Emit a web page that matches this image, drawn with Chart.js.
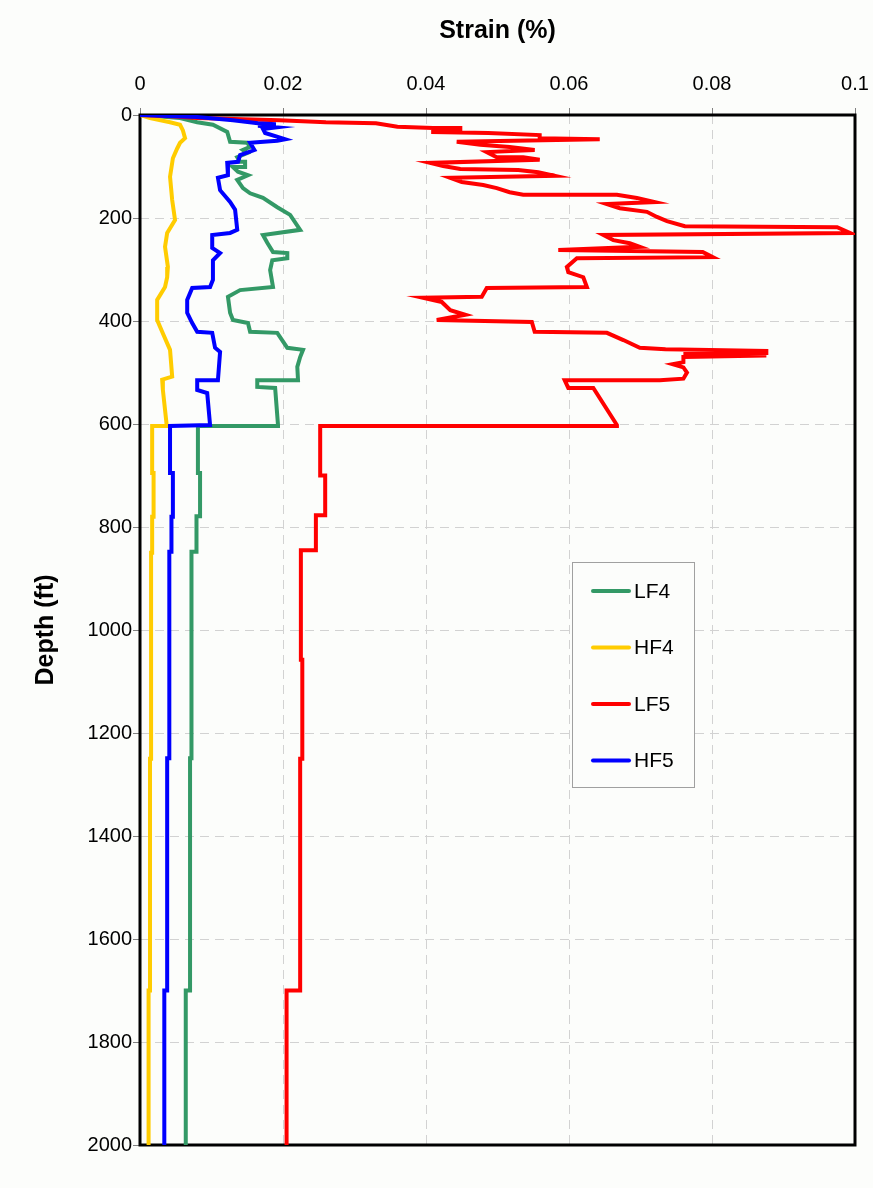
<!DOCTYPE html>
<html>
<head>
<meta charset="utf-8">
<script src="https://cdn.jsdelivr.net/npm/chart.js@4.4.1/dist/chart.umd.min.js"></script>
<style>
  html, body { margin: 0; padding: 0; background: #fcfdfb; }
</style>
</head>
<body>
<canvas id="strain-chart" width="873" height="1188"></canvas>
<script>
"use strict";

// series names, in the order of the legend
const seriesNames = ["LF4", "HF4", "LF5", "HF5"];
const xTickLabels = ["0", "0.02", "0.04", "0.06", "0.08", "0.1"];

// [strain (%), depth (ft)]
const lf4 = [
  [0, 0], [0.0056, 6], [0.0080, 14], [0.0102, 19], [0.0122, 33], [0.0126, 52],
  [0.0150, 54], [0.0154, 62], [0.0144, 68], [0.0150, 74], [0.0136, 82], [0.0140, 91],
  [0.0147, 91], [0.0147, 101], [0.0130, 101], [0.0137, 110], [0.0151, 117], [0.0136, 126],
  [0.0144, 142], [0.0154, 152], [0.0172, 161], [0.0192, 179], [0.0210, 194], [0.0224, 223],
  [0.0172, 233], [0.0178, 248], [0.0186, 266], [0.0206, 268], [0.0206, 278], [0.0185, 282],
  [0.0182, 301], [0.0186, 334], [0.0140, 340], [0.0123, 353], [0.0126, 384], [0.0130, 398],
  [0.0151, 404], [0.0154, 421], [0.0192, 423], [0.0206, 452], [0.0228, 456], [0.0224, 470],
  [0.0220, 489], [0.0221, 515], [0.0164, 515], [0.0164, 528], [0.0189, 530], [0.0193, 602],
  [0.0193, 604], [0.0081, 604], [0.0081, 695], [0.0084, 695], [0.0084, 779], [0.0079, 779],
  [0.0079, 848], [0.0072, 848], [0.0072, 1249], [0.0070, 1249], [0.0070, 1700], [0.0064, 1700],
  [0.0064, 2000]
];
const hf4 = [
  [0, 0], [0.0014, 6], [0.0042, 14], [0.0056, 19], [0.0060, 30], [0.0063, 45],
  [0.0056, 54], [0.0052, 65], [0.0046, 84], [0.0042, 120], [0.0045, 165], [0.0049, 204],
  [0.0038, 229], [0.0035, 256], [0.0039, 295], [0.0038, 315], [0.0035, 334], [0.0024, 359],
  [0.0024, 398], [0.0031, 421], [0.0042, 456], [0.0045, 508], [0.0031, 514], [0.0032, 534],
  [0.0037, 598], [0.0037, 604], [0.0017, 604], [0.0017, 695], [0.0019, 695], [0.0019, 780],
  [0.0017, 780], [0.0017, 850], [0.00155, 850], [0.00155, 1250], [0.0014, 1250], [0.0014, 1700],
  [0.0012, 1700], [0.0012, 2000]
];
const lf5 = [
  [0, 0], [0.0050, 3], [0.0080, 6], [0.0195, 10], [0.0260, 14], [0.0330, 16],
  [0.0360, 23], [0.0410, 25], [0.0448, 25], [0.0448, 30], [0.0410, 30], [0.0410, 33],
  [0.0487, 35], [0.0559, 39], [0.0559, 45], [0.0643, 47], [0.0443, 52], [0.0476, 58],
  [0.0517, 62], [0.0552, 68], [0.0485, 72], [0.0499, 82], [0.0536, 82], [0.0559, 87],
  [0.0406, 93], [0.0424, 99], [0.0448, 105], [0.0529, 107], [0.0557, 111], [0.0580, 118],
  [0.0434, 122], [0.0450, 130], [0.0480, 136], [0.0499, 142], [0.0517, 150], [0.0536, 155],
  [0.0667, 155], [0.0695, 161], [0.0720, 169], [0.0653, 173], [0.0671, 181], [0.0709, 188],
  [0.0723, 198], [0.0737, 206], [0.0762, 216], [0.0975, 218], [0.0993, 229], [0.0648, 233],
  [0.0662, 243], [0.0685, 249], [0.0699, 256], [0.0585, 262], [0.0787, 266], [0.0801, 276],
  [0.0611, 278], [0.0597, 295], [0.0599, 305], [0.0620, 315], [0.0625, 334], [0.0485, 336],
  [0.0478, 353], [0.0396, 355], [0.0422, 363], [0.0434, 379], [0.0455, 388], [0.0415, 398],
  [0.0548, 402], [0.0552, 421], [0.0653, 423], [0.0676, 437], [0.0699, 452], [0.0735, 455],
  [0.0876, 458], [0.0876, 462], [0.0760, 464], [0.0876, 467], [0.0760, 470], [0.0760, 480],
  [0.0745, 484], [0.0760, 490], [0.0765, 500], [0.0760, 512], [0.0727, 515], [0.0594, 515],
  [0.0599, 530], [0.0634, 530], [0.0667, 602], [0.0667, 604], [0.0252, 604], [0.0252, 700],
  [0.0259, 700], [0.0259, 777], [0.0246, 777], [0.0246, 845], [0.0225, 845], [0.0225, 1058],
  [0.0227, 1058], [0.0227, 1250], [0.0224, 1250], [0.0224, 1700], [0.0205, 1700], [0.0205, 2000]
];
const hf5 = [
  [0, 0], [0.0080, 4], [0.0130, 10], [0.0165, 16], [0.0190, 18], [0.0165, 21],
  [0.0190, 24], [0.0172, 27], [0.0175, 35], [0.0203, 47], [0.0192, 50], [0.0154, 54],
  [0.0160, 68], [0.0140, 78], [0.0137, 91], [0.0122, 93], [0.0123, 117], [0.0109, 122],
  [0.0112, 146], [0.0126, 169], [0.0133, 184], [0.0136, 223], [0.0126, 229], [0.0101, 233],
  [0.0101, 258], [0.0112, 268], [0.0102, 282], [0.0102, 320], [0.0098, 334], [0.0073, 336],
  [0.0066, 359], [0.0066, 384], [0.0073, 404], [0.0080, 421], [0.0101, 423], [0.0105, 452],
  [0.0112, 460], [0.0109, 515], [0.0080, 515], [0.0080, 534], [0.0094, 540], [0.0098, 602],
  [0.0042, 604], [0.0042, 695], [0.0046, 695], [0.0046, 780], [0.0044, 780], [0.0044, 848],
  [0.0041, 848], [0.0041, 1249], [0.0038, 1249], [0.0038, 1700], [0.0034, 1700], [0.0034, 2000]
];

const seriesData = [lf4, hf4, lf5, hf5];
const seriesColors = ["#339966", "#ffcc00", "#ff0000", "#0000ff"];

function toPoints(pairs) {
  return pairs.map(p => ({ x: p[0], y: p[1] }));
}

// border round the plot area
const plotBorder = {
  id: "plotBorder",
  beforeDatasetsDraw(chart) {
    const a = chart.chartArea;
    const ctx = chart.ctx;
    ctx.save();
    ctx.strokeStyle = "#000";
    ctx.lineWidth = 3;
    ctx.strokeRect(a.left, a.top, a.right - a.left, a.bottom - a.top);
    ctx.restore();
  }
};

// boxed legend inside the plot, like the original
const boxLegend = {
  id: "boxLegend",
  afterDraw(chart) {
    const ctx = chart.ctx;
    ctx.save();
    ctx.fillStyle = "#fcfdfb";
    ctx.fillRect(572, 562, 123, 226);
    ctx.strokeStyle = "#a0a0a0";
    ctx.lineWidth = 1;
    ctx.strokeRect(572.5, 562.5, 122, 225);
    ctx.font = "21px 'Liberation Sans', Arial, sans-serif";
    ctx.textBaseline = "middle";
    chart.data.datasets.forEach((ds, i) => {
      const y = 591 + i * 56.5;
      ctx.strokeStyle = ds.borderColor;
      ctx.lineWidth = 4;
      ctx.lineCap = "round";
      ctx.beginPath();
      ctx.moveTo(593, y);
      ctx.lineTo(629, y);
      ctx.stroke();
      ctx.fillStyle = "#000";
      ctx.fillText(ds.label, 634, y + 1);
    });
    ctx.restore();
  }
};

const datasets = seriesNames.map((name, i) => ({
  label: name,
  data: toPoints(seriesData[i]),
  borderColor: seriesColors[i],
  backgroundColor: seriesColors[i],
  borderWidth: 4,
  borderJoinStyle: "miter",
  pointRadius: 0,
  showLine: true,
  fill: false,
  order: 3 - i
}));

new Chart(document.getElementById("strain-chart"), {
  type: "scatter",
  data: { datasets: datasets },
  options: {
    responsive: false,
    animation: false,
    devicePixelRatio: 1,
    layout: { padding: { left: 0, right: 18, top: 0, bottom: 43 } },
    plugins: {
      legend: { display: false },
      tooltip: { enabled: false }
    },
    scales: {
      x: {
        type: "linear",
        position: "top",
        min: 0,
        max: 0.1,
        afterFit(scale) {
          scale.height = 115;
          scale.paddingLeft = 0;
          scale.paddingRight = 0;
        },
        afterBuildTicks(scale) {
          scale.ticks = xTickLabels.map(t => ({ value: Number(t) }));
        },
        ticks: {
          padding: 12,
          color: "#000",
          font: { family: "'Liberation Sans', Arial, sans-serif", size: 20 },
          callback: (v, i) => xTickLabels[i]
        },
        grid: { color: "#d2d2d2", lineWidth: 1, tickLength: 7, tickColor: "#808080" },
        border: { display: false, dash: [9, 6] },
        title: {
          display: true,
          text: "Strain (%)",
          color: "#000",
          padding: { top: 16, bottom: 0 },
          font: { family: "'Liberation Sans', Arial, sans-serif", size: 25, weight: "bold" }
        }
      },
      y: {
        type: "linear",
        reverse: true,
        min: 0,
        max: 2000,
        afterFit(scale) {
          scale.width = 140;
          scale.paddingTop = 0;
          scale.paddingBottom = 0;
        },
        ticks: {
          stepSize: 200,
          padding: 1,
          color: "#000",
          font: { family: "'Liberation Sans', Arial, sans-serif", size: 20 },
          callback: v => String(v)
        },
        grid: { color: "#d2d2d2", lineWidth: 1, tickLength: 7, tickColor: "#808080" },
        border: { display: false, dash: [9, 6] },
        title: {
          display: true,
          text: "Depth (ft)",
          color: "#000",
          padding: { top: 31, bottom: 0 },
          font: { family: "'Liberation Sans', Arial, sans-serif", size: 25, weight: "bold" }
        }
      }
    }
  },
  plugins: [plotBorder, boxLegend]
});
</script>
</body>
</html>
